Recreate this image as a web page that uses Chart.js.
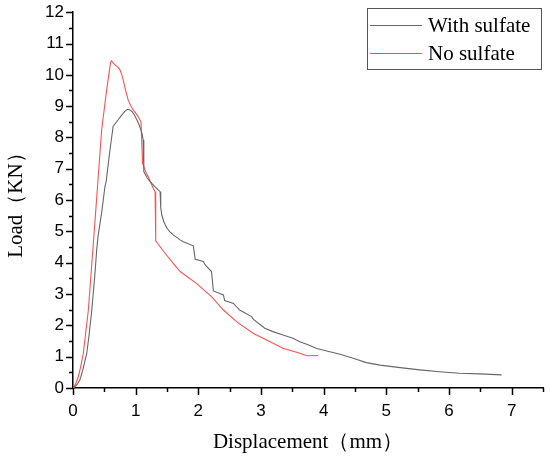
<!DOCTYPE html>
<html>
<head>
<meta charset="utf-8">
<script src="https://cdn.jsdelivr.net/npm/chart.js@4"></script>
<style>
  html, body { margin: 0; padding: 0; background: #fff; }
  #cadre { width: 550px; height: 456px; position: relative; }
</style>
</head>
<body>
<div id="cadre"><canvas id="graphique-charge"></canvas></div>
<script>
const nomsSeries = ["With sulfate", "No sulfate"];

// with sulfate (grey curve)
const avecSulfateX = [0, 0.03, 0.07, 0.11, 0.16, 0.22, 0.26, 0.30, 0.35, 0.38, 0.40, 0.457, 0.51, 0.53, 0.58, 0.64, 0.70, 0.74, 0.78, 0.83, 0.87, 0.91, 0.94, 0.98, 1.02, 1.06, 1.10, 1.12, 1.13, 1.18, 1.23, 1.31, 1.39, 1.40, 1.42, 1.45, 1.50, 1.55, 1.60, 1.71, 1.76, 1.92, 1.95, 2.08, 2.11, 2.21, 2.24, 2.40, 2.42, 2.56, 2.66, 2.85, 2.88, 3.06, 3.19, 3.35, 3.51, 3.62, 3.73, 3.89, 4.05, 4.26, 4.47, 4.68, 4.90, 5.22, 5.53, 5.85, 6.17, 6.49, 6.84];
const avecSulfateY = [0, 0.04, 0.12, 0.26, 0.60, 1.11, 1.75, 2.49, 3.65, 4.45, 4.85, 5.60, 6.43, 6.60, 7.45, 8.35, 8.51, 8.62, 8.72, 8.84, 8.90, 8.88, 8.83, 8.72, 8.56, 8.38, 8.14, 7.92, 6.91, 6.72, 6.59, 6.42, 6.27, 5.75, 5.50, 5.30, 5.10, 4.98, 4.89, 4.73, 4.67, 4.54, 4.11, 4.04, 3.93, 3.72, 3.10, 2.97, 2.79, 2.70, 2.49, 2.28, 2.19, 1.91, 1.80, 1.69, 1.59, 1.48, 1.40, 1.26, 1.18, 1.08, 0.95, 0.81, 0.73, 0.65, 0.58, 0.52, 0.47, 0.45, 0.42];

// no sulfate (red curve)
const sansSulfateX = [0, 0.015, 0.05, 0.085, 0.125, 0.165, 0.245, 0.35, 0.457, 0.537, 0.60, 0.617, 0.64, 0.67, 0.72, 0.75, 0.78, 0.80, 0.84, 0.88, 0.92, 0.96, 1.03, 1.085, 1.11, 1.17, 1.20, 1.28, 1.31, 1.32, 1.45, 1.60, 1.71, 1.97, 2.21, 2.40, 2.61, 2.88, 3.09, 3.35, 3.62, 3.73, 3.91];
const sansSulfateY = [0, 0.04, 0.17, 0.36, 0.70, 1.11, 2.49, 5.30, 8.24, 9.52, 10.40, 10.45, 10.38, 10.32, 10.24, 10.16, 10.00, 9.84, 9.50, 9.20, 9.02, 8.88, 8.70, 8.50, 7.18, 6.86, 6.75, 6.38, 6.27, 4.70, 4.35, 3.98, 3.72, 3.34, 2.92, 2.49, 2.12, 1.74, 1.53, 1.27, 1.11, 1.03, 1.04];

const ticksX = [0, 1, 2, 3, 4, 5, 6, 7];
const ticksY = [0, 1, 2, 3, 4, 5, 6, 7, 8, 9, 10, 11, 12];

const couleurs = ["#666666", "#ff5050"];

function points(xs, ys) {
  return xs.map((x, i) => ({ x: x, y: ys[i] }));
}

// petits et grands traits des axes
const traitsAxes = {
  id: "traitsAxes",
  afterDraw(chart) {
    const ctx = chart.ctx;
    const sx = chart.scales.x;
    const sy = chart.scales.y;
    const bas = chart.chartArea.bottom;
    const gauche = chart.chartArea.left;
    ctx.save();
    ctx.strokeStyle = "#000";
    ctx.lineWidth = 1.5;
    ctx.beginPath();
    for (let v = 0; v <= 7.5; v += 0.5) {
      const px = Math.round(sx.getPixelForValue(v)) + 0.5;
      const l = ticksX.includes(v) ? 7 : 4;
      ctx.moveTo(px, bas);
      ctx.lineTo(px, bas + l);
    }
    for (let v = 0; v <= 12; v += 0.5) {
      const py = Math.round(sy.getPixelForValue(v)) + 0.5;
      const l = ticksY.includes(v) ? 7 : 4;
      ctx.moveTo(gauche, py);
      ctx.lineTo(gauche - l, py);
    }
    ctx.stroke();
    ctx.restore();
  }
};

// legende encadree en haut a droite
const legendeCadre = {
  id: "legendeCadre",
  afterDraw(chart) {
    const ctx = chart.ctx;
    const x0 = 367, y0 = 8, w = 174, h = 61;
    ctx.save();
    ctx.fillStyle = "#fff";
    ctx.fillRect(x0, y0, w, h);
    ctx.strokeStyle = "#555";
    ctx.lineWidth = 1;
    ctx.strokeRect(x0 + 0.5, y0 + 0.5, w, h);
    ctx.font = "21px 'Liberation Serif'";
    ctx.textBaseline = "middle";
    chart.data.datasets.forEach((ds, i) => {
      const y = 25 + i * 28;
      ctx.strokeStyle = ds.borderColor;
      ctx.lineWidth = 1;
      ctx.beginPath();
      ctx.moveTo(370, y + 0.5);
      ctx.lineTo(422, y + 0.5);
      ctx.stroke();
      ctx.fillStyle = "#000";
      ctx.fillText(ds.label, 428, y + 1);
    });
    ctx.restore();
  }
};

const data = {
  datasets: [
    {
      label: nomsSeries[0],
      data: points(avecSulfateX, avecSulfateY),
      borderColor: couleurs[0],
      borderWidth: 1.1,
      pointRadius: 0,
      tension: 0,
      fill: false,
    },
    {
      label: nomsSeries[1],
      data: points(sansSulfateX, sansSulfateY),
      borderColor: couleurs[1],
      borderWidth: 1.1,
      pointRadius: 0,
      tension: 0,
      fill: false,
    },
  ],
};

const config = {
  type: "line",
  data: data,
  options: {
    responsive: true,
    maintainAspectRatio: false,
    animation: false,
    layout: { padding: { top: 12, right: 7, left: 0, bottom: 0 } },
    plugins: {
      legend: { display: false },
      tooltip: { enabled: false },
    },
    scales: {
      x: {
        type: "linear",
        min: 0,
        max: 7.5,
        afterFit: (s) => { s.height = 68; },
        afterBuildTicks: (s) => { s.ticks = ticksX.map((v) => ({ value: v })); },
        grid: { display: true, drawOnChartArea: false, drawTicks: true, tickLength: 7, tickColor: "transparent" },
        border: { display: true, color: "#000", width: 1.5 },
        ticks: { color: "#000", font: { family: "'Liberation Sans'", size: 17 }, padding: 6, maxRotation: 0, autoSkip: false },
        title: {
          display: true,
          text: "Displacement（mm）",
          color: "#000",
          font: { family: "'Liberation Serif'", size: 21 },
          padding: { top: 0, bottom: 1 },
        },
      },
      y: {
        type: "linear",
        min: 0,
        max: 12,
        afterFit: (s) => { s.width = 73; },
        afterBuildTicks: (s) => { s.ticks = ticksY.map((v) => ({ value: v })); },
        grid: { display: true, drawOnChartArea: false, drawTicks: true, tickLength: 7, tickColor: "transparent" },
        border: { display: true, color: "#000", width: 1.5 },
        ticks: { color: "#000", font: { family: "'Liberation Sans'", size: 17 }, padding: 2, autoSkip: false },
        title: {
          display: true,
          text: "Load（KN）",
          color: "#000",
          font: { family: "'Liberation Serif'", size: 21 },
          padding: { top: 4, bottom: 0 },
        },
      },
    },
  },
  plugins: [traitsAxes, legendeCadre],
};

new Chart(document.querySelector("#graphique-charge"), config);
</script>
</body>
</html>
